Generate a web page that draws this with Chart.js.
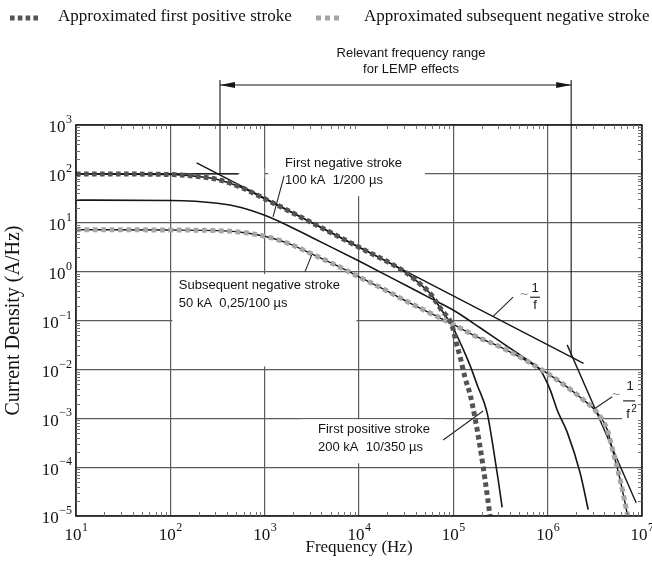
<!DOCTYPE html>
<html><head><meta charset="utf-8">
<script src="https://cdn.jsdelivr.net/npm/chart.js@4.4.1/dist/chart.umd.min.js"></script>
<style>html,body{margin:0;padding:0;background:#fff;}canvas{display:block;}</style>
</head><body>
<canvas id="c" width="652" height="563"></canvas>
<script>
// ---------------- data ----------------
const xTickExponents = [1, 2, 3, 4, 5, 6, 7];
const yTickExponents = [-5, -4, -3, -2, -1, 0, 1, 2, 3];

const freqFirstPositive = [10, 100, 200, 316, 562, 1000, 3162, 10000, 31623, 42400, 56700, 74000, 97000, 127000, 151000, 179000, 228000, 264000, 299000, 329000];
const valFirstPositive  = [100, 97, 88, 77, 53, 31, 10.0, 3.15, 0.95, 0.6, 0.36, 0.17, 0.078, 0.026, 0.0118, 0.0048, 0.0013, 0.00026, 0.000055, 0.000015];

const freqApproxFirstPositive = [10, 100, 200, 316, 562, 1000, 3162, 10000, 31623, 42400, 56700, 74000, 97000, 107000, 118000, 133000, 151000, 170000, 192000, 217000, 245000];
const valApproxFirstPositive  = [100, 97, 88, 77, 53, 31, 10.0, 3.15, 0.95, 0.6, 0.36, 0.17, 0.078, 0.036, 0.018, 0.0068, 0.0030, 0.0010, 0.00026, 0.000055, 0.00001];

const freqFirstNegative = [10, 100, 316, 562, 1000, 1778, 3162, 10000, 31623, 56234, 104500, 192000, 354000, 607000, 830000, 1064000, 1260000, 1610000, 2210000, 2690000];
const valFirstNegative  = [29, 28.5, 25, 20.5, 14.2, 8.7, 5.0, 1.65, 0.52, 0.29, 0.155, 0.071, 0.0316, 0.0156, 0.0098, 0.0038, 0.00148, 0.00052, 0.000076, 0.0000135];

const freqSubsequent = [10, 100, 316, 562, 1000, 1778, 3162, 5623, 10000, 17783, 31623, 56234, 100000, 179000, 313000, 652000, 1260000, 2380000, 3350000, 4280000, 4950000, 5870000, 7050000];
const valSubsequent  = [7.2, 7.1, 6.9, 6.4, 5.3, 3.8, 2.3, 1.37, 0.78, 0.45, 0.25, 0.143, 0.083, 0.046, 0.029, 0.0136, 0.0061, 0.0024, 0.0013, 0.00058, 0.0002, 0.000055, 0.00001];
const valApproxSubsequent = [7.2, 7.1, 6.9, 6.4, 5.3, 3.8, 2.3, 1.37, 0.78, 0.45, 0.25, 0.143, 0.083, 0.046, 0.029, 0.0136, 0.0061, 0.0024, 0.0013, 0.00058, 0.0002, 0.000055, 0.00001];

const freqAsymInvF  = [190, 2400000];
const valAsymInvF   = [168, 0.0133];
const freqAsymInvF2 = [1610000, 8670000];
const valAsymInvF2  = [0.0317, 0.0000186];
const freqPlateau   = [10, 522];
const valPlateau    = [100, 100];

const lempFreq = [336, 1775000];          // Relevant frequency range for LEMP effects
const lempTopValue = 8300;
const lempArrowValue = 6600;
const lempFootValue = [100, 0.018];

// ---------------- styling / annotation placement ----------------
const SERIF = '"Liberation Serif", "DejaVu Serif", "Times New Roman", serif';
const SANS = '"Liberation Sans", Arial, Helvetica, sans-serif';
const INK = '#161616';
const DARK_DASH = '#535353';
const LIGHT_DASH = '#a6a6a6';

const curveLabels = [
  {lines: ['First negative stroke', '100 kA  1/200 \u00b5s'], f: 1645, v: 167},
  {lines: ['Subsequent negative stroke', '50 kA  0,25/100 \u00b5s'], f: 123, v: 0.51},
  {lines: ['First positive stroke', '200 kA  10/350 \u00b5s'], f: 3680, v: 0.00058}
];
const leaders = [
  [[1607, 90.6], [1227, 13.2]],
  [[2680, 1.0], [3155, 2.2]],
  [[78000, 0.00036], [207000, 0.00141]],
  [[430000, 0.30], [264000, 0.122]],
  [[4830000, 0.00275], [3190000, 0.0016]]
];
const whiteBoxes = [
  [1090, 50000, 35, 1000],
  [540, 990, 82, 132],
  [105, 9400, 0.0115, 0.89],
  [2400, 80000, 0.00012, 0.00095]
];
const fracInvF  = {f: 736000, v: 0.30};
const fracInvF2 = {f: 7300000, v: 0.00227};
const lempText = {f: 35600, lines: ['Relevant frequency range', 'for LEMP effects']};

const pts = (fs, vs) => fs.map((f, i) => ({x: f, y: vs[i]}));
function curve(label, data, color, width, dash, order) {
  return {label, data, borderColor: color, borderWidth: width, borderDash: dash || [],
    order, cubicInterpolationMode: 'monotone', pointRadius: 0, fill: false, borderCapStyle: 'butt'};
}
function straight(label, data, width, clip) {
  const d = {label, data, borderColor: INK, borderWidth: width, tension: 0, order: 3, pointRadius: 0, fill: false};
  if (clip === false) d.clip = false;
  return d;
}

const datasets = [
  curve('Approximated first positive stroke', pts(freqApproxFirstPositive, valApproxFirstPositive), DARK_DASH, 5, [4.6, 3.4], 1),
  curve('Approximated subsequent negative stroke', pts(freqSubsequent, valApproxSubsequent), LIGHT_DASH, 5, [4.8, 3.6], 1),
  curve('First positive stroke 200 kA 10/350 \u00b5s', pts(freqFirstPositive, valFirstPositive), INK, 1.6, null, 2),
  curve('First negative stroke 100 kA 1/200 \u00b5s', pts(freqFirstNegative, valFirstNegative), INK, 1.6, null, 2),
  curve('Subsequent negative stroke 50 kA 0,25/100 \u00b5s', pts(freqSubsequent, valSubsequent), INK, 1.4, null, 2),
  straight('~1/f', pts(freqAsymInvF, valAsymInvF), 1.4),
  straight('~1/f\u00b2', pts(freqAsymInvF2, valAsymInvF2), 1.4),
  straight('Low-frequency level', pts(freqPlateau, valPlateau), 1.4),
  straight('LEMP lower limit', [{x: lempFreq[0], y: lempTopValue}, {x: lempFreq[0], y: lempFootValue[0]}], 1.1, false),
  straight('LEMP upper limit', [{x: lempFreq[1], y: lempTopValue}, {x: lempFreq[1], y: lempFootValue[1]}], 1.1, false),
  straight('LEMP range', [{x: lempFreq[0], y: lempArrowValue}, {x: lempFreq[1], y: lempArrowValue}], 1.1, false)
];
const ARROW_INDEX = datasets.length - 1;

function drawPow(ctx, exp, x, y, align) {
  const base = '10';
  const ex = exp < 0 ? '\u2212' + (-exp) : String(exp);
  ctx.font = '17px ' + SERIF;
  const bw = ctx.measureText(base).width;
  ctx.font = '12px ' + SERIF;
  const ew = ctx.measureText(ex).width;
  const left = align === 'center' ? x - (bw + ew) / 2 : x - bw - ew - 0.5;
  ctx.textAlign = 'left';
  ctx.textBaseline = 'middle';
  ctx.font = '17px ' + SERIF;
  ctx.fillText(base, left, y + 3);
  ctx.font = '12px ' + SERIF;
  ctx.fillText(ex, left + bw + 0.5, y - 5);
}

const decor = {
  id: 'decor',
  beforeDatasetsDraw(chart) {
    const {ctx} = chart, xs = chart.scales.x, ys = chart.scales.y;
    ctx.save();
    ctx.fillStyle = '#ffffff';
    whiteBoxes.forEach(b => {
      const x1 = xs.getPixelForValue(b[0]), x2 = xs.getPixelForValue(b[1]);
      const y1 = ys.getPixelForValue(b[3]), y2 = ys.getPixelForValue(b[2]);
      ctx.fillRect(x1, y1, x2 - x1, y2 - y1);
    });
    const fx = xs.getPixelForValue(fracInvF2.f), fy = ys.getPixelForValue(fracInvF2.v);
    ctx.fillRect(fx - 7, fy + 5, 19, 19);
    ctx.restore();
  },
  afterDatasetsDraw(chart) {
    const {ctx, chartArea: a} = chart, xs = chart.scales.x, ys = chart.scales.y;
    ctx.save();
    // frame
    ctx.strokeStyle = '#1e1e1e';
    ctx.lineWidth = 1.6;
    ctx.strokeRect(a.left, a.top, a.right - a.left, a.bottom - a.top);
    // inner minor ticks
    ctx.strokeStyle = '#707070';
    ctx.lineWidth = 1;
    ctx.beginPath();
    for (let e = xTickExponents[0]; e < xTickExponents[xTickExponents.length - 1]; e++) {
      for (let m = 2; m <= 9; m++) {
        const px = Math.round(xs.getPixelForValue(m * Math.pow(10, e))) + 0.5;
        ctx.moveTo(px, a.top); ctx.lineTo(px, a.top + 4);
        ctx.moveTo(px, a.bottom); ctx.lineTo(px, a.bottom - 4);
      }
    }
    for (let e = yTickExponents[0]; e < yTickExponents[yTickExponents.length - 1]; e++) {
      for (let m = 2; m <= 9; m++) {
        const py = Math.round(ys.getPixelForValue(m * Math.pow(10, e))) + 0.5;
        ctx.moveTo(a.left, py); ctx.lineTo(a.left + 4, py);
        ctx.moveTo(a.right, py); ctx.lineTo(a.right - 4, py);
      }
    }
    ctx.stroke();
    // arrowheads of the LEMP range
    const meta = chart.getDatasetMeta(ARROW_INDEX);
    const p0 = meta.data[0], p1 = meta.data[1];
    ctx.fillStyle = INK;
    ctx.beginPath();
    ctx.moveTo(p0.x, p0.y); ctx.lineTo(p0.x + 15, p0.y - 3); ctx.lineTo(p0.x + 15, p0.y + 3); ctx.closePath();
    ctx.moveTo(p1.x, p1.y); ctx.lineTo(p1.x - 15, p1.y - 3); ctx.lineTo(p1.x - 15, p1.y + 3); ctx.closePath();
    ctx.fill();
    // leader lines
    ctx.strokeStyle = '#262626';
    ctx.lineWidth = 1.1;
    ctx.beginPath();
    leaders.forEach(l => {
      ctx.moveTo(xs.getPixelForValue(l[0][0]), ys.getPixelForValue(l[0][1]));
      ctx.lineTo(xs.getPixelForValue(l[1][0]), ys.getPixelForValue(l[1][1]));
    });
    ctx.stroke();
    // curve labels
    ctx.fillStyle = '#141414';
    ctx.font = '13px ' + SANS;
    ctx.textAlign = 'left';
    ctx.textBaseline = 'middle';
    curveLabels.forEach(c => {
      const x = xs.getPixelForValue(c.f), y = ys.getPixelForValue(c.v);
      c.lines.forEach((t, i) => ctx.fillText(t, x, y + i * 17.5));
    });
    // LEMP text
    const lx = xs.getPixelForValue(lempText.f);
    ctx.textAlign = 'center';
    ctx.fillText(lempText.lines[0], lx, a.top - 72);
    ctx.fillText(lempText.lines[1], lx, a.top - 56);
    // ~1/f
    let fx = xs.getPixelForValue(fracInvF.f), fy = ys.getPixelForValue(fracInvF.v);
    ctx.fillStyle = '#8a8a8a';
    ctx.font = '14px ' + SANS;
    ctx.fillText('~', fx - 11, fy - 2);
    ctx.fillStyle = '#141414';
    ctx.font = '13px ' + SANS;
    ctx.fillText('1', fx, fy - 9);
    ctx.fillText('f', fx, fy + 8);
    ctx.fillRect(fx - 5, fy - 0.5, 10, 1.1);
    // ~1/f^2
    fx = xs.getPixelForValue(fracInvF2.f); fy = ys.getPixelForValue(fracInvF2.v);
    ctx.fillStyle = '#8a8a8a';
    ctx.font = '14px ' + SANS;
    ctx.fillText('~', fx - 13, fy - 6);
    ctx.fillStyle = '#141414';
    ctx.font = '13px ' + SANS;
    ctx.fillText('1', fx + 1, fy - 14);
    ctx.fillText('f', fx - 1, fy + 14);
    ctx.font = '10px ' + SANS;
    ctx.fillText('2', fx + 5, fy + 8);
    ctx.fillRect(fx - 6, fy - 0.5, 12, 1.1);
    // tick labels
    ctx.fillStyle = '#111';
    xTickExponents.forEach(e => drawPow(ctx, e, xs.getPixelForValue(Math.pow(10, e)), a.bottom + 17, 'center'));
    yTickExponents.forEach(e => drawPow(ctx, e, a.left - 4, ys.getPixelForValue(Math.pow(10, e)), 'right'));
    // legend
    ctx.lineWidth = 5;
    ctx.lineCap = 'butt';
    ctx.strokeStyle = DARK_DASH;
    ctx.setLineDash([4.6, 3.2]);
    ctx.beginPath(); ctx.moveTo(10, 18); ctx.lineTo(38, 18); ctx.stroke();
    ctx.strokeStyle = LIGHT_DASH;
    ctx.setLineDash([5, 4]);
    ctx.beginPath(); ctx.moveTo(316, 18); ctx.lineTo(339, 18); ctx.stroke();
    ctx.setLineDash([]);
    ctx.fillStyle = '#111';
    ctx.font = '17px ' + SERIF;
    ctx.textAlign = 'left';
    ctx.textBaseline = 'middle';
    ctx.fillText(datasets[0].label, 58, 17);
    ctx.fillText(datasets[1].label, 364, 17);
    ctx.restore();
  }
};

const gridOpts = {color: '#5c5c5c', lineWidth: 1.2, drawTicks: false};

new Chart(document.getElementById('c'), {
  type: 'line',
  data: {datasets},
  options: {
    responsive: false,
    animation: false,
    devicePixelRatio: 1,
    layout: {padding: {left: 2, right: 10, top: 125, bottom: 0.8}},
    plugins: {legend: {display: false}, tooltip: {enabled: false}},
    elements: {point: {radius: 0}},
    scales: {
      x: {
        type: 'logarithmic', position: 'bottom', min: 10, max: 1e7,
        afterBuildTicks: s => { s.ticks = xTickExponents.map(e => ({value: Math.pow(10, e)})); },
        ticks: {display: false},
        grid: gridOpts,
        border: {display: false},
        title: {display: true, text: 'Frequency (Hz)', color: '#111', font: {family: SERIF, size: 17}, padding: {top: 21.8, bottom: 4}}
      },
      y: {
        type: 'logarithmic', position: 'left', min: 1e-5, max: 1e3,
        afterBuildTicks: s => { s.ticks = yTickExponents.map(e => ({value: Math.pow(10, e)})); },
        ticks: {display: false},
        grid: gridOpts,
        border: {display: false},
        title: {display: true, text: 'Current Density (A/Hz)', color: '#111', font: {family: SERIF, size: 20}, padding: {top: 0, bottom: 50}}
      }
    }
  },
  plugins: [decor]
});
</script>
</body></html>
